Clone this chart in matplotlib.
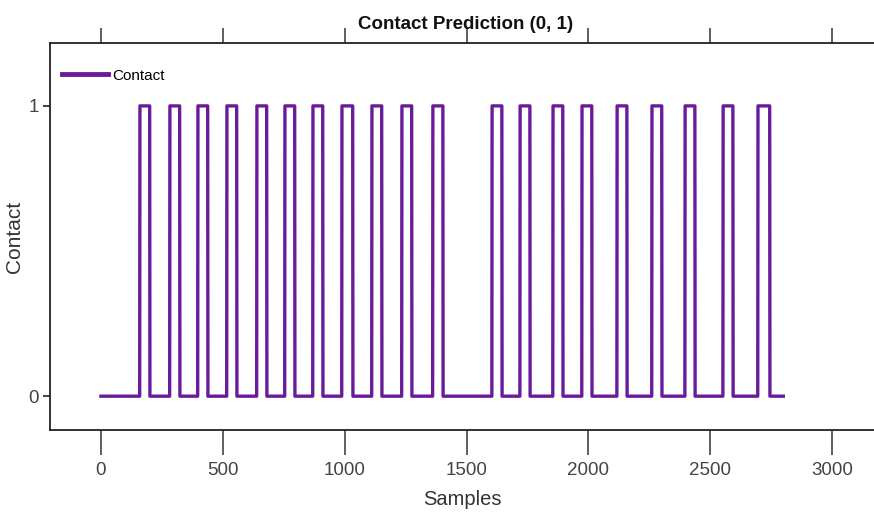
import matplotlib
matplotlib.use("Agg")
import matplotlib.pyplot as plt
import numpy as np

# contact edges (sample index where the foot goes down / comes up)
CONTACT_ON = [160, 283, 398, 517, 640, 755, 870, 989, 1112, 1235, 1362,
              1605, 1720, 1855, 1974, 2118, 2261, 2397, 2553, 2696]
CONTACT_OFF = [201, 324, 439, 558, 681, 796, 911, 1034, 1153, 1276, 1404,
               1646, 1761, 1896, 2015, 2159, 2302, 2438, 2594, 2745]
N_SAMPLES = 2800

X_TICKS = [0, 500, 1000, 1500, 2000, 2500, 3000]
Y_TICKS = [0, 1]

LINE_COLOR = "#6A1B9A"
FONT = ["Liberation Sans", "DejaVu Sans"]


def build_signal():
    samples = np.arange(N_SAMPLES + 1)
    contact = np.zeros_like(samples, dtype=float)
    for start, stop in zip(CONTACT_ON, CONTACT_OFF):
        contact[(samples >= start) & (samples < stop)] = 1.0
    return samples, contact


samples, contact = build_signal()

fig = plt.figure(figsize=(8.74, 5.17), dpi=100)
ax = fig.add_axes([0.0572, 0.168, 0.9428, 0.749])

ax.plot(samples, contact, color=LINE_COLOR, linewidth=2.4, label="Contact",
        solid_joinstyle="round")

ax.set_xlim(-209, 3172)
ax.set_ylim(-0.117, 1.217)
ax.set_xticks(X_TICKS)
ax.set_yticks(Y_TICKS)

ax.spines["right"].set_visible(False)
for side in ("left", "bottom", "top"):
    ax.spines[side].set_linewidth(1.3)
    ax.spines[side].set_color("#222222")

ax.tick_params(axis="x", direction="out", length=18, width=1.1,
               color="#333333", pad=5, top=True, labeltop=False)
for tick in ax.xaxis.get_major_ticks():
    tick.tick2line.set_markersize(11)
ax.tick_params(axis="y", direction="out", length=5, width=1.3, color="#333333", pad=3)

for label in ax.get_xticklabels() + ax.get_yticklabels():
    label.set_fontfamily(FONT)
    label.set_fontsize(13.5)
    label.set_color("#444444")

ax.set_xlabel("Samples", fontfamily=FONT, fontsize=14.5, color="#333333", labelpad=8)
ax.set_ylabel("Contact", fontfamily=FONT, fontsize=15, color="#333333")
ax.yaxis.label.set_verticalalignment("center")
ax.yaxis.set_label_coords(-0.043, 0.5)

fig.text(0.533, 0.953, "Contact Prediction (0, 1)", ha="center", va="center",
         fontfamily=FONT, fontsize=13.5, fontweight="bold", color="#111111")

leg = ax.legend(loc="upper left", bbox_to_anchor=(0.0, 0.965), frameon=False,
                prop={"family": FONT, "size": 11},
                handlelength=3.0, handletextpad=0.3, borderaxespad=0.4)
for line in leg.get_lines():
    line.set_linewidth(3.5)

fig.savefig("out.png", dpi=100)
